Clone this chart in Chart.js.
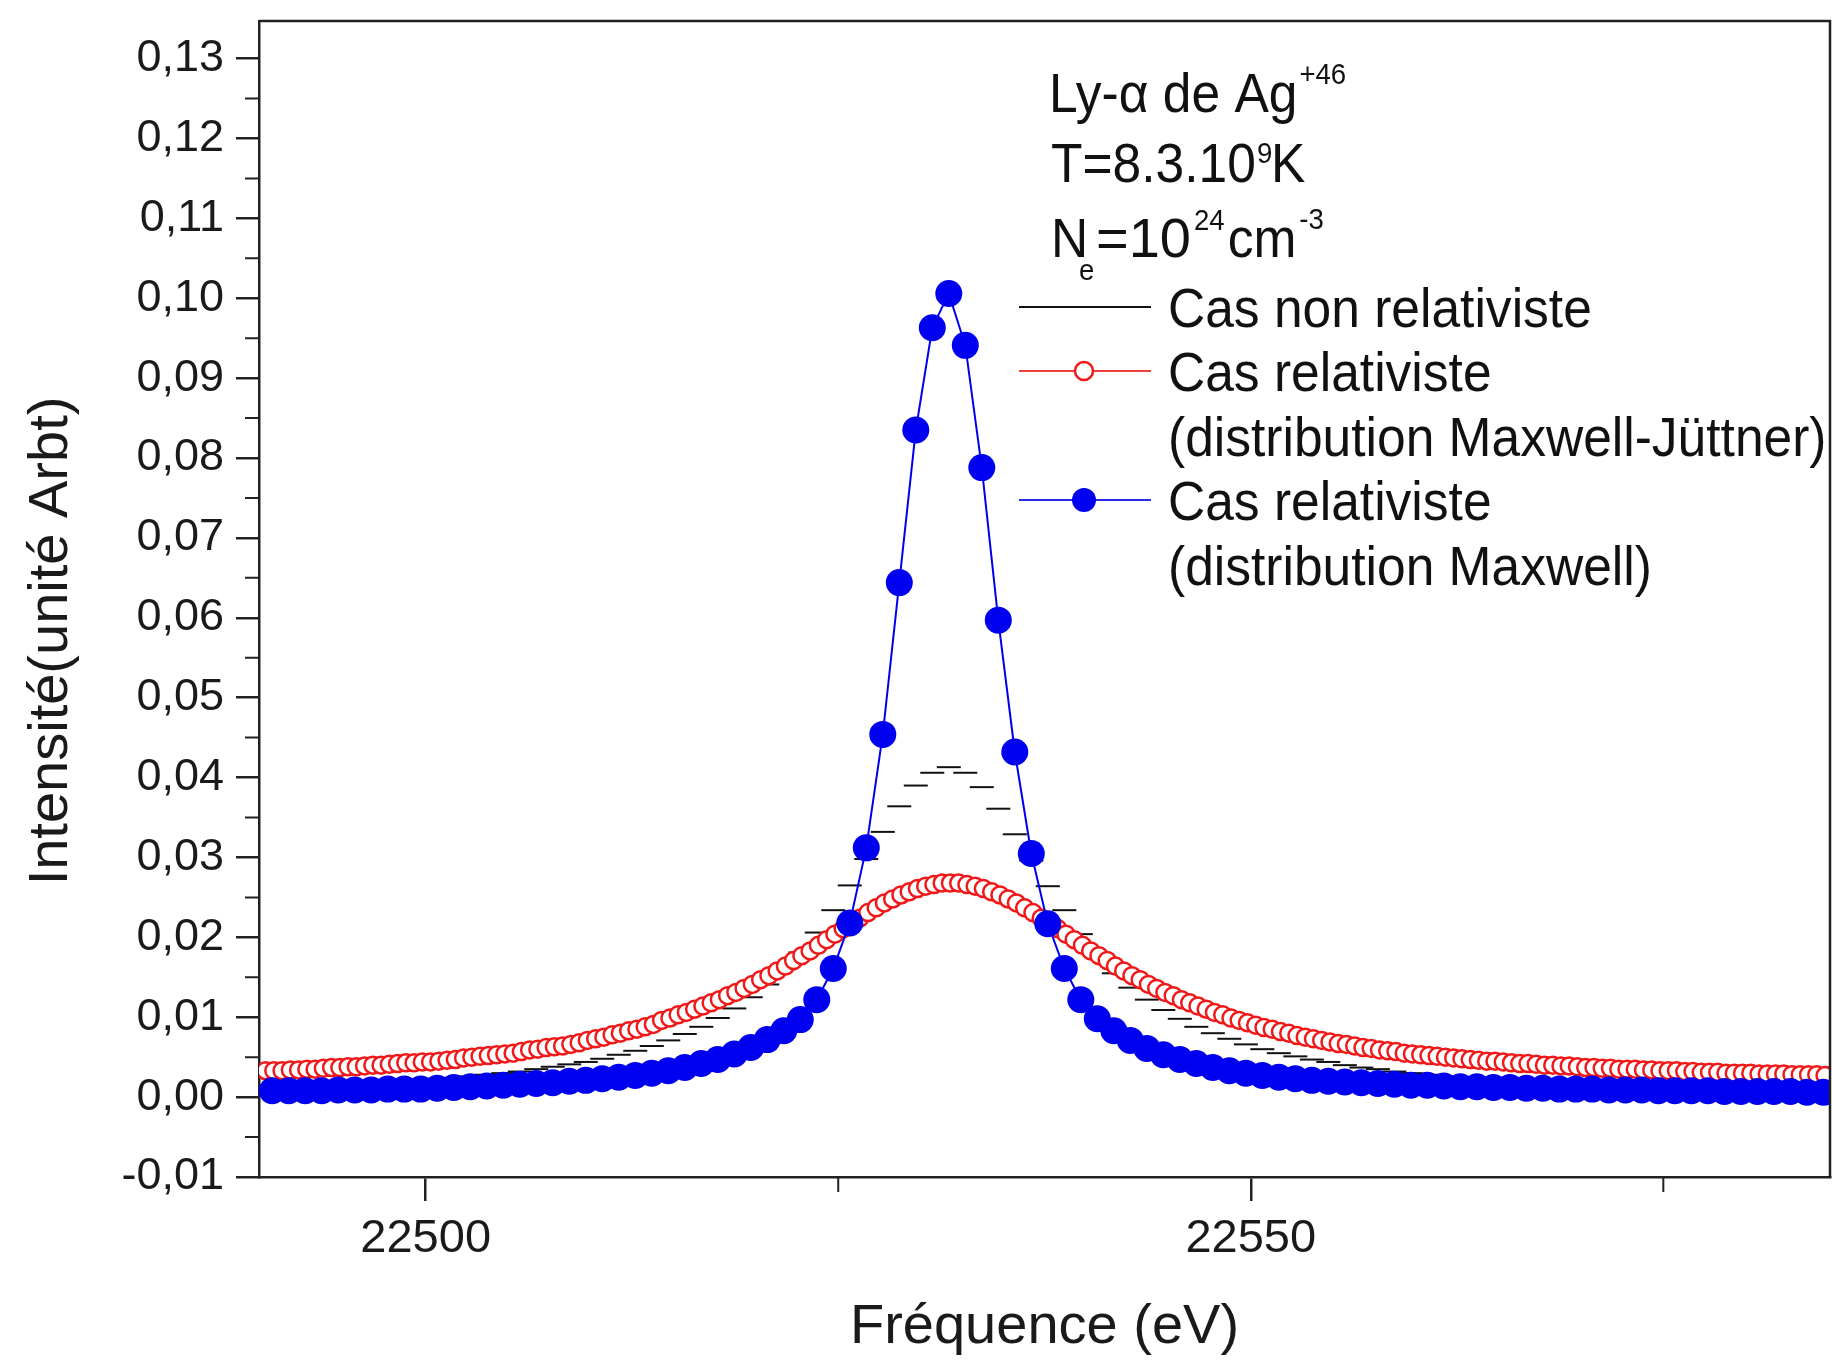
<!DOCTYPE html>
<html>
<head>
<meta charset="utf-8">
<title>Ly-α de Ag+46</title>
<script src="https://cdn.jsdelivr.net/npm/chart.js@4.4.1/dist/chart.umd.min.js"></script>
<style>
    html, body { margin: 0; padding: 0; background: #fff; }
    canvas { display: block; }
</style>
</head>
<body>
<canvas id="chart" width="1832" height="1361"></canvas>
<script>
// Energies (eV) of the non relativistic and Maxwell points, 1 eV apart
const energies = [
    22490.7, 22491.7, 22492.7, 22493.7, 22494.7, 22495.7, 22496.7, 22497.7, 22498.7, 22499.7,
    22500.7, 22501.7, 22502.7, 22503.7, 22504.7, 22505.7, 22506.7, 22507.7, 22508.7, 22509.7,
    22510.7, 22511.7, 22512.7, 22513.7, 22514.7, 22515.7, 22516.7, 22517.7, 22518.7, 22519.7,
    22520.7, 22521.7, 22522.7, 22523.7, 22524.7, 22525.7, 22526.7, 22527.7, 22528.7, 22529.7,
    22530.7, 22531.7, 22532.7, 22533.7, 22534.7, 22535.7, 22536.7, 22537.7, 22538.7, 22539.7,
    22540.7, 22541.7, 22542.7, 22543.7, 22544.7, 22545.7, 22546.7, 22547.7, 22548.7, 22549.7,
    22550.7, 22551.7, 22552.7, 22553.7, 22554.7, 22555.7, 22556.7, 22557.7, 22558.7, 22559.7,
    22560.7, 22561.7, 22562.7, 22563.7, 22564.7, 22565.7, 22566.7, 22567.7, 22568.7, 22569.7,
    22570.7, 22571.7, 22572.7, 22573.7, 22574.7, 22575.7, 22576.7, 22577.7, 22578.7, 22579.7,
    22580.7, 22581.7, 22582.7, 22583.7, 22584.7
];

// Cas non relativiste
const nonRelativist = [
    0.0014, 0.0015, 0.0015, 0.0016, 0.0017, 0.0017, 0.0018, 0.0019, 0.0020, 0.0021,
    0.0023, 0.0024, 0.0026, 0.0028, 0.0030, 0.0032, 0.0035, 0.0038, 0.0041, 0.0044,
    0.0048, 0.0053, 0.0058, 0.0064, 0.0071, 0.0079, 0.0088, 0.0099, 0.0111, 0.0125,
    0.0141, 0.0160, 0.0181, 0.0206, 0.0234, 0.0265, 0.0298, 0.0332, 0.0364, 0.0390,
    0.0406, 0.0413, 0.0406, 0.0388, 0.0361, 0.0329, 0.0296, 0.0264, 0.0234, 0.0204,
    0.0177, 0.0155, 0.0137, 0.0122, 0.0109, 0.0098, 0.0088, 0.0080, 0.0073, 0.0066,
    0.0060, 0.0055, 0.0051, 0.0047, 0.0044, 0.0040, 0.0037, 0.0035, 0.0032, 0.0030,
    0.0028, 0.0026, 0.0025, 0.0023, 0.0022, 0.0021, 0.0020, 0.0019, 0.0018, 0.0017,
    0.0016, 0.0016, 0.0015, 0.0014, 0.0014, 0.0013, 0.0013, 0.0012, 0.0012, 0.0011,
    0.0011, 0.0010, 0.0010, 0.0010, 0.0009
];

// Cas relativiste, distribution Maxwell
const maxwell = [
    0.0008, 0.0008, 0.0008, 0.0008, 0.0009, 0.0009, 0.0009, 0.0010, 0.0010, 0.0010,
    0.0011, 0.0012, 0.0013, 0.0014, 0.0015, 0.0016, 0.0017, 0.0018, 0.0020, 0.0021,
    0.0023, 0.0025, 0.0027, 0.0030, 0.0033, 0.0037, 0.0042, 0.0047, 0.0054, 0.0062,
    0.0072, 0.0083, 0.0097, 0.0122, 0.0161, 0.0218, 0.0312, 0.0454, 0.0644, 0.0835,
    0.0963, 0.1006, 0.0941, 0.0788, 0.0597, 0.0432, 0.0305, 0.0217, 0.0161, 0.0122,
    0.0098, 0.0083, 0.0071, 0.0061, 0.0053, 0.0047, 0.0042, 0.0037, 0.0033, 0.0030,
    0.0027, 0.0025, 0.0023, 0.0021, 0.0020, 0.0019, 0.0018, 0.0017, 0.0016, 0.0015,
    0.0015, 0.0014, 0.0013, 0.0013, 0.0012, 0.0012, 0.0011, 0.0011, 0.0010, 0.0010,
    0.0010, 0.0009, 0.0009, 0.0009, 0.0008, 0.0008, 0.0008, 0.0008, 0.0007, 0.0007,
    0.0007, 0.0007, 0.0007, 0.0006, 0.0006
];

// Energies (eV) of the Maxwell-Jüttner points, 0.5 eV apart
const juttnerEnergies = [
    22490.3, 22490.8, 22491.3, 22491.8, 22492.3, 22492.8, 22493.3, 22493.8, 22494.3, 22494.8,
    22495.3, 22495.8, 22496.3, 22496.8, 22497.3, 22497.8, 22498.3, 22498.8, 22499.3, 22499.8,
    22500.3, 22500.8, 22501.3, 22501.8, 22502.3, 22502.8, 22503.3, 22503.8, 22504.3, 22504.8,
    22505.3, 22505.8, 22506.3, 22506.8, 22507.3, 22507.8, 22508.3, 22508.8, 22509.3, 22509.8,
    22510.3, 22510.8, 22511.3, 22511.8, 22512.3, 22512.8, 22513.3, 22513.8, 22514.3, 22514.8,
    22515.3, 22515.8, 22516.3, 22516.8, 22517.3, 22517.8, 22518.3, 22518.8, 22519.3, 22519.8,
    22520.3, 22520.8, 22521.3, 22521.8, 22522.3, 22522.8, 22523.3, 22523.8, 22524.3, 22524.8,
    22525.3, 22525.8, 22526.3, 22526.8, 22527.3, 22527.8, 22528.3, 22528.8, 22529.3, 22529.8,
    22530.3, 22530.8, 22531.3, 22531.8, 22532.3, 22532.8, 22533.3, 22533.8, 22534.3, 22534.8,
    22535.3, 22535.8, 22536.3, 22536.8, 22537.3, 22537.8, 22538.3, 22538.8, 22539.3, 22539.8,
    22540.3, 22540.8, 22541.3, 22541.8, 22542.3, 22542.8, 22543.3, 22543.8, 22544.3, 22544.8,
    22545.3, 22545.8, 22546.3, 22546.8, 22547.3, 22547.8, 22548.3, 22548.8, 22549.3, 22549.8,
    22550.3, 22550.8, 22551.3, 22551.8, 22552.3, 22552.8, 22553.3, 22553.8, 22554.3, 22554.8,
    22555.3, 22555.8, 22556.3, 22556.8, 22557.3, 22557.8, 22558.3, 22558.8, 22559.3, 22559.8,
    22560.3, 22560.8, 22561.3, 22561.8, 22562.3, 22562.8, 22563.3, 22563.8, 22564.3, 22564.8,
    22565.3, 22565.8, 22566.3, 22566.8, 22567.3, 22567.8, 22568.3, 22568.8, 22569.3, 22569.8,
    22570.3, 22570.8, 22571.3, 22571.8, 22572.3, 22572.8, 22573.3, 22573.8, 22574.3, 22574.8,
    22575.3, 22575.8, 22576.3, 22576.8, 22577.3, 22577.8, 22578.3, 22578.8, 22579.3, 22579.8,
    22580.3, 22580.8, 22581.3, 22581.8, 22582.3, 22582.8, 22583.3, 22583.8, 22584.3, 22584.8
];

// Cas relativiste, distribution Maxwell-Jüttner
const maxwellJuttner = [
    0.0033, 0.0033, 0.0033, 0.0034, 0.0034, 0.0035, 0.0035, 0.0036, 0.0037, 0.0037,
    0.0038, 0.0038, 0.0039, 0.0040, 0.0040, 0.0041, 0.0042, 0.0043, 0.0043, 0.0044,
    0.0044, 0.0045, 0.0046, 0.0047, 0.0049, 0.0050, 0.0051, 0.0052, 0.0053, 0.0054,
    0.0055, 0.0057, 0.0059, 0.0060, 0.0062, 0.0063, 0.0064, 0.0066, 0.0068, 0.0071,
    0.0073, 0.0075, 0.0078, 0.0080, 0.0083, 0.0085, 0.0088, 0.0091, 0.0096, 0.0099,
    0.0103, 0.0106, 0.0110, 0.0114, 0.0118, 0.0122, 0.0127, 0.0131, 0.0136, 0.0141,
    0.0147, 0.0152, 0.0158, 0.0164, 0.0171, 0.0177, 0.0183, 0.0190, 0.0197, 0.0204,
    0.0211, 0.0217, 0.0224, 0.0231, 0.0237, 0.0243, 0.0248, 0.0253, 0.0257, 0.0261,
    0.0264, 0.0266, 0.0268, 0.0268, 0.0268, 0.0266, 0.0264, 0.0261, 0.0257, 0.0253,
    0.0248, 0.0243, 0.0237, 0.0231, 0.0224, 0.0217, 0.0211, 0.0204, 0.0197, 0.0190,
    0.0183, 0.0177, 0.0171, 0.0164, 0.0158, 0.0152, 0.0147, 0.0141, 0.0136, 0.0131,
    0.0127, 0.0122, 0.0118, 0.0114, 0.0110, 0.0106, 0.0103, 0.0099, 0.0096, 0.0093,
    0.0090, 0.0087, 0.0085, 0.0082, 0.0080, 0.0077, 0.0075, 0.0073, 0.0071, 0.0069,
    0.0067, 0.0066, 0.0064, 0.0062, 0.0061, 0.0059, 0.0058, 0.0057, 0.0055, 0.0054,
    0.0053, 0.0052, 0.0051, 0.0050, 0.0049, 0.0048, 0.0047, 0.0046, 0.0045, 0.0045,
    0.0044, 0.0043, 0.0042, 0.0042, 0.0041, 0.0040, 0.0040, 0.0039, 0.0039, 0.0038,
    0.0037, 0.0037, 0.0036, 0.0036, 0.0035, 0.0035, 0.0035, 0.0034, 0.0034, 0.0033,
    0.0033, 0.0033, 0.0032, 0.0032, 0.0031, 0.0031, 0.0031, 0.0030, 0.0030, 0.0030,
    0.0030, 0.0029, 0.0029, 0.0029, 0.0029, 0.0028, 0.0028, 0.0028, 0.0028, 0.0027
];

const legendLabels = [
    ['Cas relativiste', '(distribution Maxwell)'],
    ['Cas relativiste', '(distribution Maxwell-Jüttner)'],
    ['Cas non relativiste']
];

const xMajorTicks = [22500, 22550];
const xMinorTicks = [22525, 22575];
const yMinorTicks = [-0.005, 0.005, 0.015, 0.025, 0.035, 0.045, 0.055, 0.065, 0.075, 0.085, 0.095, 0.105, 0.115, 0.125];

const FONT = '"Liberation Sans", Arial, sans-serif';
const AXIS_COLOR = '#222';

const toPoints = (xs, ys) => xs.map((x, i) => ({ x: x, y: ys[i] }));

// Condensed text, returns the advance width
function drawText(ctx, text, x, y, size, squeeze = 0.92) {
    ctx.save();
    ctx.font = `${size}px ${FONT}`;
    ctx.translate(x, y);
    ctx.scale(squeeze, 1);
    ctx.fillText(text, 0, 0);
    const w = ctx.measureText(text).width * squeeze;
    ctx.restore();
    return w;
}

const decorPlugin = {
    id: 'decor',
    beforeDraw(chart) {
        const ctx = chart.ctx;
        ctx.save();
        ctx.fillStyle = '#fff';
        ctx.fillRect(0, 0, chart.width, chart.height);
        ctx.restore();
    },
    afterDraw(chart) {
        const { ctx, chartArea: area, scales } = chart;
        ctx.save();

        // frame top / right
        ctx.strokeStyle = AXIS_COLOR;
        ctx.lineWidth = 2.5;
        ctx.beginPath();
        ctx.moveTo(area.left, area.top);
        ctx.lineTo(area.right, area.top);
        ctx.lineTo(area.right, area.bottom);
        ctx.stroke();

        // minor ticks
        ctx.lineWidth = 2;
        ctx.beginPath();
        yMinorTicks.forEach(v => {
            const y = scales.y.getPixelForValue(v);
            ctx.moveTo(area.left - 14, y);
            ctx.lineTo(area.left, y);
        });
        xMinorTicks.forEach(v => {
            const x = scales.x.getPixelForValue(v);
            ctx.moveTo(x, area.bottom);
            ctx.lineTo(x, area.bottom + 15);
        });
        ctx.stroke();

        // y axis title
        ctx.fillStyle = '#1a1a1a';
        ctx.font = `56px ${FONT}`;
        ctx.textAlign = 'center';
        ctx.textBaseline = 'middle';
        ctx.save();
        ctx.translate(52, 641);
        ctx.rotate(-Math.PI / 2);
        ctx.fillText('Intensité(unité Arbt)', 0, 0);
        ctx.restore();

        // annotation block
        ctx.textAlign = 'left';
        ctx.textBaseline = 'alphabetic';
        ctx.fillStyle = '#111';
        const w1 = drawText(ctx, 'Ly-α de Ag', 1049, 112, 56);
        drawText(ctx, '+46', 1049 + w1 + 2, 84, 30);

        drawText(ctx, 'T=8.3.10', 1051, 182, 56);
        drawText(ctx, '9', 1257, 163, 30);
        drawText(ctx, 'K', 1271, 182, 56);

        drawText(ctx, 'N', 1051, 257, 56);
        drawText(ctx, 'e', 1079, 280, 30);
        let x = 1096;
        x += drawText(ctx, '=10', x, 257, 56, 1) + 3;
        x += drawText(ctx, '24', x, 230, 30) + 3;
        x += drawText(ctx, 'cm', x, 257, 56) + 3;
        drawText(ctx, '-3', x, 229, 30);

        // legend, drawn in the reference order: black, red, blue
        const ds = chart.data.datasets;
        const rows = [
            { d: ds[2], lines: legendLabels[2], baseline: 327 },
            { d: ds[1], lines: legendLabels[1], baseline: 391 },
            { d: ds[0], lines: legendLabels[0], baseline: 520 }
        ];
        rows.forEach(row => {
            const yMid = row.baseline - 20;
            ctx.strokeStyle = row.d.legendLine;
            ctx.lineWidth = 2;
            ctx.beginPath();
            ctx.moveTo(1019, yMid);
            ctx.lineTo(1151, yMid);
            ctx.stroke();
            if (row.d.pointStyle === 'circle') {
                ctx.beginPath();
                ctx.arc(1084, yMid, row.d.legendRadius, 0, Math.PI * 2);
                ctx.fillStyle = row.d.pointBackgroundColor;
                ctx.fill();
                if (row.d.pointBorderWidth > 0) {
                    ctx.lineWidth = row.d.pointBorderWidth;
                    ctx.strokeStyle = row.d.pointBorderColor;
                    ctx.stroke();
                }
            }
            ctx.fillStyle = '#111';
            row.lines.forEach((t, i) => drawText(ctx, t, 1168, row.baseline + i * 64.5, 56));
        });

        ctx.restore();
    }
};

Chart.defaults.font.family = FONT;
Chart.defaults.color = '#1a1a1a';

new Chart(document.getElementById('chart'), {
    type: 'line',
    data: {
        datasets: [
            {
                label: legendLabels[0].join(' '),
                data: toPoints(energies, maxwell),
                borderColor: '#0000f0',
                legendLine: '#2a2ae8',
                borderWidth: 2,
                pointStyle: 'circle',
                pointRadius: 13.5,
                legendRadius: 12,
                pointBackgroundColor: '#0000f0',
                pointBorderColor: '#0000f0',
                pointBorderWidth: 0,
                tension: 0
            },
            {
                label: legendLabels[1].join(' '),
                data: toPoints(juttnerEnergies, maxwellJuttner),
                borderColor: '#ff1a1a',
                legendLine: '#f04040',
                borderWidth: 1.5,
                pointStyle: 'circle',
                pointRadius: 8.5,
                legendRadius: 9,
                pointBackgroundColor: '#ffffff',
                pointBorderColor: '#f01818',
                pointBorderWidth: 2.5,
                tension: 0
            },
            {
                label: legendLabels[2].join(' '),
                data: toPoints(energies, nonRelativist),
                borderColor: '#111',
                legendLine: '#111',
                showLine: false,
                pointStyle: 'line',
                pointRadius: 12,
                pointBorderColor: '#111',
                pointBorderWidth: 2
            }
        ]
    },
    options: {
        responsive: false,
        animation: false,
        events: [],
        layout: { autoPadding: false, padding: { top: 21, right: 2, left: 0, bottom: 0 } },
        plugins: {
            legend: { display: false },
            tooltip: { enabled: false }
        },
        scales: {
            x: {
                type: 'linear',
                min: 22489.9,
                max: 22585.1,
                afterBuildTicks: scale => {
                    scale.ticks = xMajorTicks.map(v => ({ value: v }));
                },
                afterFit: scale => {
                    scale.height = 184;
                    scale.paddingLeft = 0;
                    scale.paddingRight = 0;
                },
                border: { display: true, color: AXIS_COLOR, width: 2.5 },
                grid: { drawOnChartArea: false, drawTicks: true, tickLength: 24, tickColor: AXIS_COLOR, lineWidth: 2.5 },
                ticks: {
                    maxRotation: 0,
                    autoSkip: false,
                    padding: 10,
                    font: { size: 47 },
                    callback: v => String(v)
                },
                title: {
                    display: true,
                    text: 'Fréquence (eV)',
                    font: { size: 56 },
                    padding: { top: 0, bottom: 0 }
                }
            },
            y: {
                min: -0.01,
                max: 0.1347,
                afterFit: scale => {
                    scale.width = 259;
                    scale.paddingTop = 0;
                    scale.paddingBottom = 0;
                },
                border: { display: true, color: AXIS_COLOR, width: 2.5 },
                grid: { drawOnChartArea: false, drawTicks: true, tickLength: 23, tickColor: AXIS_COLOR, lineWidth: 2.5 },
                ticks: {
                    stepSize: 0.01,
                    includeBounds: false,
                    padding: 12,
                    font: { size: 45 },
                    callback: v => v.toFixed(2).replace('.', ',')
                }
            }
        }
    },
    plugins: [decorPlugin]
});
</script>
</body>
</html>
